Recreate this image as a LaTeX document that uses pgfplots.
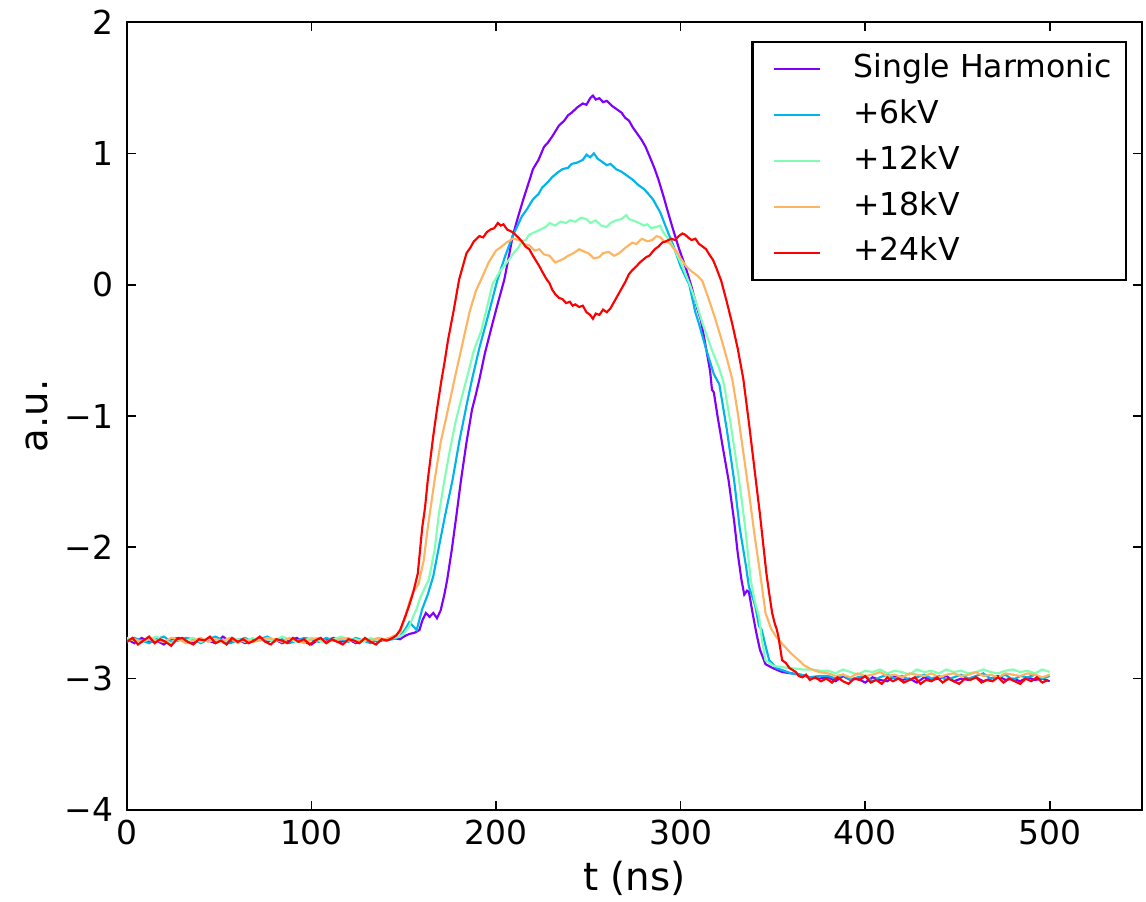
\documentclass[border=0pt]{standalone}
\usepackage{pgfplots}
\pgfplotsset{compat=1.18}
\usepackage{fontspec}
\setmainfont{DejaVu Sans}
\definecolor{c0}{RGB}{128,0,255}
\definecolor{c1}{RGB}{0,180,236}
\definecolor{c2}{RGB}{128,255,180}
\definecolor{c3}{RGB}{255,180,98}
\definecolor{c4}{RGB}{255,0,0}
\begin{document}
\begin{tikzpicture}
\begin{axis}[
  scale only axis, width=354.3pt, height=275pt,
  xmin=0, xmax=550, ymin=-4, ymax=2,
  xtick={0,100,200,300,400,500}, xticklabels={0,100,200,300,400,500},
  ytick={-4,-3,-2,-1,0,1,2}, yticklabels={−4,−3,−2,−1,0,1,2},
  tick align=inside, major tick length=3pt,
  axis line style={line width=0.9pt},
  every tick/.style={black, line width=0.6pt},
  ticklabel style={font=\fontsize{11.5}{13}\selectfont},
  yticklabel style={xshift=-1.2pt},
  xlabel={t (ns)}, ylabel={a.u.},
  label style={font=\fontsize{13.5}{16}\selectfont},
  xlabel style={at={(axis description cs:0.5,0)}, anchor=base, yshift=-28pt},
  ylabel style={at={(axis description cs:-0.0886,0.5)}, anchor=center},
  legend cell align=left,
  legend image code/.code={\path (0pt,0pt); \draw[#1, line width=0.8pt] (4.2pt,0pt) -- (20.2pt,0pt);},
  legend style={at={(1,1)}, anchor=north east, xshift=-5.2pt, yshift=-6.6pt,
    draw=black, line width=0.8pt, font=\fontsize{11}{13}\selectfont,
    inner xsep=3pt, inner ysep=1.5pt,
    nodes={inner xsep=2pt, inner ysep=2.5pt, text height=8.4pt, text depth=2.6pt},
    /tikz/every odd column/.append style={column sep=9.2pt}},
  every axis plot/.append style={line width=0.75pt},
]
\coordinate (SW) at (rel axis cs:0,0);
\coordinate (NE) at (rel axis cs:1,1);
% Single Harmonic
\addplot[c0] coordinates {
(0,-2.70)(4,-2.73)(8,-2.69)(12,-2.72)(16,-2.71)(20,-2.74)(24,-2.70)(28,-2.69)(32,-2.72)(36,-2.73)(40,-2.70)(44,-2.71)(48,-2.73)(52,-2.68)(56,-2.72)(60,-2.70)(64,-2.73)(68,-2.71)(72,-2.69)(76,-2.72)(80,-2.70)(84,-2.73)(88,-2.71)(92,-2.69)(96,-2.72)(100,-2.74)(104,-2.70)(108,-2.71)(112,-2.69)(116,-2.72)(120,-2.70)(124,-2.73)(128,-2.71)(132,-2.70)(136,-2.72)(140,-2.70)(144,-2.69)
(148,-2.70)(150,-2.68)(153,-2.66)(156,-2.65)(158.5,-2.63)(160,-2.56)(162,-2.50)(164,-2.53)(166,-2.50)(168,-2.54)(170,-2.48)(172,-2.36)(173.5,-2.25)(176,-2.02)(178.5,-1.76)(181,-1.49)(184,-1.20)(187,-0.95)(189,-0.84)(191,-0.72)(194,-0.52)(198,-0.30)(201,-0.14)(204.5,0.04)(207,0.22)(209,0.37)(212,0.52)(215,0.66)(218,0.79)(220,0.88)(223,0.95)(226,1.05)(228,1.08)(230.5,1.13)(234,1.21)(237,1.25)(239,1.29)(241,1.31)(244,1.35)(247,1.38)(249,1.37)(251,1.42)(252.5,1.44)(254,1.41)(256,1.42)(258,1.39)(260,1.40)(263,1.36)(266,1.33)(268,1.31)(270,1.27)(272,1.25)(274,1.20)(277,1.14)(279,1.10)(281,1.05)(284,0.95)(286,0.88)(288,0.80)(291,0.66)(293,0.56)(295.5,0.44)(299,0.28)(303,0.12)(306,-0.02)(309,-0.18)(311,-0.27)(314,-0.50)(316,-0.66)(317,-0.80)(318,-0.82)(320,-1.00)(323,-1.25)(326,-1.49)(329,-1.80)(331,-2.05)(333,-2.25)(334.5,-2.36)(336,-2.33)(337,-2.34)(339,-2.50)(341,-2.65)(343,-2.78)(346,-2.89)(350,-2.92)(355,-2.95)(360,-2.96)(365,-2.97)(370,-2.99)(375,-3.00)
(380,-2.99)(384,-3.02)(388,-2.98)(392,-3.01)(396,-3.00)(400,-3.03)(404,-2.99)(408,-3.01)(412,-3.02)(416,-2.98)(420,-3.01)(424,-3.00)(428,-3.03)(432,-2.99)(436,-3.01)(440,-3.00)(444,-2.98)(448,-3.02)(452,-3.00)(456,-3.01)(460,-2.99)(464,-3.02)(468,-3.00)(472,-2.98)(476,-3.01)(480,-3.00)(484,-3.02)(488,-2.99)(492,-3.01)(496,-3.00)(500,-3.02)
};
\addlegendentry{Single Harmonic}
% +6kV
\addplot[c1] coordinates {
(0,-2.72)(4,-2.69)(8,-2.71)(12,-2.73)(16,-2.70)(20,-2.68)(24,-2.72)(28,-2.71)(32,-2.69)(36,-2.70)(40,-2.73)(44,-2.70)(48,-2.68)(52,-2.71)(56,-2.73)(60,-2.71)(64,-2.69)(68,-2.72)(72,-2.70)(76,-2.68)(80,-2.71)(84,-2.70)(88,-2.73)(92,-2.71)(96,-2.69)(100,-2.70)(104,-2.72)(108,-2.69)(112,-2.71)(116,-2.70)(120,-2.72)(124,-2.69)(128,-2.71)(132,-2.73)(136,-2.70)(140,-2.71)(144,-2.70)
(148,-2.68)(151,-2.62)(153,-2.57)(155,-2.60)(157,-2.63)(158.5,-2.55)(160,-2.47)(163,-2.36)(166,-2.22)(169,-2.00)(172.5,-1.75)(176.4,-1.49)(180,-1.20)(184,-0.92)(187,-0.72)(191,-0.48)(196,-0.22)(200.8,0.04)(205,0.22)(209,0.37)(212,0.46)(214,0.52)(217,0.58)(220,0.65)(223,0.69)(225,0.74)(228,0.78)(230.5,0.82)(233,0.85)(236,0.88)(239,0.89)(241,0.92)(244,0.93)(247,0.95)(249,0.99)(251,0.97)(253,1.00)(255,0.96)(257,0.94)(260,0.91)(262,0.92)(265,0.88)(268,0.86)(270,0.84)(272,0.82)(274,0.80)(277,0.76)(280,0.73)(282,0.70)(285,0.65)(287,0.60)(289,0.55)(292,0.44)(296,0.30)(300,0.14)(304.7,0.00)(308,-0.21)(310,-0.30)(314,-0.50)(318,-0.68)(321,-0.76)(325,-1.10)(329,-1.49)(332,-1.85)(335.5,-2.15)(337,-2.30)(339,-2.38)(340.5,-2.45)(342.5,-2.60)(344,-2.63)(346,-2.75)(348,-2.86)(352,-2.92)(356,-2.94)(360,-2.96)(365,-2.97)(370,-2.99)(375,-2.98)
(380,-2.98)(384,-3.00)(388,-2.97)(392,-3.01)(396,-2.99)(400,-2.98)(404,-3.02)(408,-2.99)(412,-2.97)(416,-3.00)(420,-2.98)(424,-3.01)(428,-2.99)(432,-2.97)(436,-3.00)(440,-2.98)(444,-3.01)(448,-2.99)(452,-2.97)(456,-3.00)(460,-2.98)(464,-2.96)(468,-3.00)(472,-2.99)(476,-2.97)(480,-3.01)(484,-2.98)(488,-2.99)(492,-2.97)(496,-3.00)(500,-2.98)
};
\addlegendentry{+6kV}
% +12kV
\addplot[c2] coordinates {
(0,-2.69)(4,-2.71)(8,-2.72)(12,-2.70)(16,-2.68)(20,-2.71)(24,-2.73)(28,-2.70)(32,-2.71)(36,-2.69)(40,-2.72)(44,-2.70)(48,-2.71)(52,-2.73)(56,-2.69)(60,-2.70)(64,-2.72)(68,-2.69)(72,-2.71)(76,-2.70)(80,-2.72)(84,-2.68)(88,-2.70)(92,-2.72)(96,-2.71)(100,-2.69)(104,-2.71)(108,-2.73)(112,-2.70)(116,-2.68)(120,-2.71)(124,-2.70)(128,-2.72)(132,-2.69)(136,-2.71)(140,-2.70)(144,-2.69)
(148,-2.68)(150,-2.66)(153,-2.60)(155,-2.53)(157,-2.47)(158.5,-2.40)(161,-2.32)(163.5,-2.25)(166.7,-2.02)(169,-1.75)(172,-1.49)(175,-1.26)(178,-1.05)(181,-0.88)(184,-0.72)(188,-0.50)(192,-0.35)(196,-0.12)(198,0.00)(202,0.10)(207,0.19)(210,0.25)(212,0.28)(214,0.33)(216,0.34)(218,0.38)(221,0.40)(224,0.42)(227,0.44)(229,0.47)(232,0.45)(235,0.48)(238,0.47)(240,0.49)(243,0.48)(246,0.51)(249,0.50)(251,0.47)(254,0.49)(257,0.45)(260,0.44)(262,0.47)(265,0.49)(268,0.50)(270.6,0.53)(272,0.50)(274,0.49)(277.6,0.47)(280,0.45)(282,0.46)(284,0.43)(286.8,0.44)(289,0.45)(290.5,0.40)(293.8,0.34)(297,0.26)(301,0.14)(305,0.00)(308,-0.12)(312,-0.30)(317,-0.50)(321,-0.64)(323.5,-0.76)(327,-1.05)(331.7,-1.49)(335,-1.85)(338,-2.25)(340,-2.40)(342.5,-2.53)(344,-2.70)(346,-2.86)(350,-2.90)(353,-2.91)(360,-2.92)(366,-2.93)(371,-2.93)(376,-2.94)
(380,-2.94)(384,-2.96)(388,-2.93)(392,-2.95)(396,-2.97)(400,-2.94)(404,-2.95)(408,-2.93)(412,-2.96)(416,-2.94)(420,-2.95)(424,-2.97)(428,-2.93)(432,-2.95)(436,-2.94)(440,-2.96)(444,-2.93)(448,-2.95)(452,-2.94)(456,-2.96)(460,-2.95)(464,-2.93)(468,-2.95)(472,-2.96)(476,-2.94)(480,-2.93)(484,-2.95)(488,-2.94)(492,-2.96)(496,-2.93)(500,-2.95)
};
\addlegendentry{+12kV}
% +18kV
\addplot[c3] coordinates {
(0,-2.71)(4,-2.70)(8,-2.72)(12,-2.69)(16,-2.71)(20,-2.72)(24,-2.69)(28,-2.70)(32,-2.73)(36,-2.71)(40,-2.69)(44,-2.72)(48,-2.70)(52,-2.71)(56,-2.69)(60,-2.73)(64,-2.70)(68,-2.72)(72,-2.71)(76,-2.69)(80,-2.70)(84,-2.72)(88,-2.69)(92,-2.71)(96,-2.73)(100,-2.70)(104,-2.69)(108,-2.72)(112,-2.71)(116,-2.70)(120,-2.69)(124,-2.72)(128,-2.70)(132,-2.71)(136,-2.69)(140,-2.70)(144,-2.68)
(148,-2.65)(151,-2.52)(153,-2.42)(155,-2.34)(158,-2.28)(160.8,-2.10)(163,-1.85)(166.7,-1.49)(170,-1.20)(173.5,-0.98)(177.5,-0.72)(181,-0.50)(185.6,-0.21)(189,-0.05)(192.6,0.06)(196,0.17)(200,0.26)(203,0.29)(205.6,0.32)(209,0.35)(212.7,0.34)(215,0.31)(218,0.30)(221,0.26)(223.5,0.27)(226,0.23)(229,0.22)(232,0.17)(234,0.18)(237,0.20)(239,0.22)(242,0.24)(245,0.27)(248,0.25)(250,0.24)(253,0.20)(256,0.21)(258,0.24)(261,0.25)(264,0.22)(266.8,0.24)(270,0.28)(273.8,0.32)(276,0.31)(279,0.35)(282,0.33)(284.6,0.34)(287,0.37)(289,0.36)(291,0.33)(293.8,0.32)(296,0.28)(298,0.25)(300,0.20)(303,0.14)(306,0.10)(309,0.07)(311.7,0.03)(315,-0.10)(319,-0.27)(322,-0.41)(325,-0.56)(328,-0.72)(331,-0.98)(334,-1.28)(337,-1.58)(340,-1.90)(343.6,-2.25)(346,-2.50)(349,-2.62)(351.7,-2.68)(356,-2.75)(360,-2.81)(364,-2.86)(367,-2.90)(371,-2.93)(375,-2.95)
(380,-2.96)(384,-2.98)(388,-2.97)(392,-2.99)(396,-2.96)(400,-2.98)(404,-2.97)(408,-2.95)(412,-2.98)(416,-2.97)(420,-2.99)(424,-2.96)(428,-2.97)(432,-2.98)(436,-2.96)(440,-2.99)(444,-2.97)(448,-2.96)(452,-2.98)(456,-2.97)(460,-2.95)(464,-2.98)(468,-2.97)(472,-2.99)(476,-2.96)(480,-2.97)(484,-2.98)(488,-2.96)(492,-2.97)(496,-2.99)(500,-2.97)
};
\addlegendentry{+18kV}
% +24kV
\addplot[c4] coordinates {
(0,-2.72)(3,-2.69)(6,-2.74)(9,-2.71)(12,-2.68)(15,-2.73)(18,-2.70)(21,-2.72)(24,-2.75)(27,-2.70)(30,-2.69)(33,-2.72)(36,-2.74)(39,-2.70)(42,-2.71)(45,-2.68)(48,-2.73)(51,-2.71)(54,-2.74)(57,-2.69)(60,-2.72)(63,-2.70)(66,-2.73)(69,-2.71)(72,-2.68)(75,-2.72)(78,-2.74)(81,-2.70)(84,-2.71)(87,-2.73)(90,-2.69)(93,-2.72)(96,-2.70)(99,-2.74)(102,-2.71)(105,-2.69)(108,-2.73)(111,-2.70)(114,-2.72)(117,-2.74)(120,-2.70)(123,-2.71)(126,-2.73)(129,-2.69)(132,-2.72)(135,-2.74)(138,-2.70)(141,-2.71)(144,-2.69)
(146,-2.67)(148,-2.63)(151,-2.52)(153,-2.44)(155,-2.35)(157.6,-2.20)(160,-1.85)(161.5,-1.70)(163,-1.49)(166,-1.15)(168,-0.95)(170.5,-0.72)(172,-0.60)(174,-0.42)(177,-0.20)(180,0.04)(182,0.14)(184,0.24)(186,0.28)(188,0.33)(191,0.37)(193,0.36)(195,0.40)(197,0.42)(199,0.43)(201,0.47)(202.5,0.45)(204,0.46)(206,0.42)(209,0.40)(212,0.36)(214,0.33)(216,0.29)(218,0.27)(220,0.22)(223.5,0.14)(225,0.10)(227,0.05)(229,0.01)(230.5,-0.04)(232,-0.07)(234,-0.10)(236,-0.11)(238,-0.14)(240,-0.13)(241.5,-0.16)(243,-0.15)(245,-0.17)(247,-0.16)(249,-0.21)(251,-0.23)(252.5,-0.26)(254,-0.22)(256,-0.23)(258,-0.19)(260,-0.21)(262,-0.18)(264,-0.13)(266.8,-0.06)(268,-0.03)(270,0.02)(272,0.08)(273.8,0.11)(276,0.14)(278,0.17)(281.4,0.21)(283,0.22)(286,0.27)(288,0.29)(290,0.32)(292,0.33)(295,0.35)(297,0.34)(299,0.37)(301,0.39)(302.5,0.38)(304,0.36)(306,0.34)(308,0.35)(310,0.31)(312,0.29)(313.8,0.27)(316,0.22)(317.5,0.19)(319,0.14)(322,0.03)(325,-0.13)(328,-0.30)(331,-0.49)(334,-0.72)(337,-1.05)(340,-1.40)(343,-1.75)(346.5,-2.20)(348,-2.35)(349.6,-2.50)(351,-2.58)(352,-2.62)(353,-2.68)(355,-2.86)(357,-2.88)(359,-2.92)(362.5,-2.95)(364,-2.98)(366,-2.99)(368,-2.97)(370,-3.01)(373,-2.99)(376,-3.02)
(379,-3.00)(382,-3.03)(385,-2.99)(388,-3.02)(391,-3.04)(394,-3.00)(397,-3.01)(400,-2.98)(403,-3.03)(406,-3.01)(409,-3.04)(412,-2.99)(415,-3.02)(418,-3.00)(421,-3.03)(424,-3.01)(427,-2.99)(430,-3.04)(433,-3.01)(436,-3.02)(439,-2.99)(442,-3.03)(445,-3.00)(448,-3.02)(451,-3.04)(454,-3.00)(457,-3.01)(460,-2.99)(463,-3.03)(466,-3.01)(469,-3.02)(472,-2.99)(475,-3.03)(478,-3.00)(481,-3.02)(484,-3.04)(487,-3.00)(490,-3.02)(493,-2.99)(496,-3.03)(499,-3.01)
};
\addlegendentry{+24kV}
\end{axis}
\pgfresetboundingbox
\path[use as bounding box] ([xshift=-44.3pt,yshift=-32.1pt]SW) rectangle ([xshift=1.4pt,yshift=7.7pt]NE);
\end{tikzpicture}
\end{document}
